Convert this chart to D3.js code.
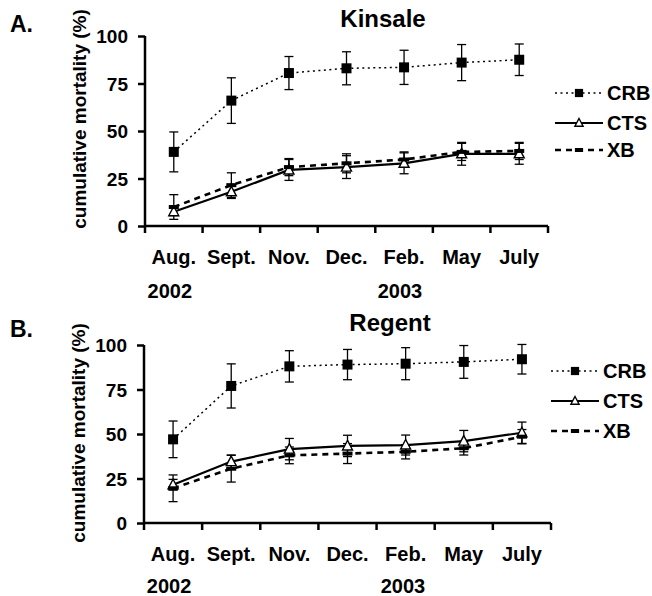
<!DOCTYPE html>
<html><head><meta charset="utf-8">
<script src="https://cdn.jsdelivr.net/npm/d3@7"></script>
<style>
html,body{margin:0;padding:0;background:#fff;}
svg text{font-family:"Liberation Sans",Arial,Helvetica,sans-serif;font-weight:bold;fill:#000;}
</style></head>
<body><svg id="chart" width="652" height="596"></svg>
<script>
const months = ["Aug.","Sept.","Nov.","Dec.","Feb.","May","July"];
const yTicks = [0,25,50,75,100];
const seriesNames = ["CRB","CTS","XB"];

const kinsaleCRB = [39,66,80.5,83,83.5,86,87.5];
const kinsaleCRBErr = [10.5,12,8.7,8.7,9,9.5,8.3];
const kinsaleCTS = [7.5,18,29.5,31,33,38,38];
const kinsaleCTSErr = [2,3.5,5.5,6,5.5,6,5.5];
const kinsaleXB = [10,21.5,31,33,35,39,39.5];
const kinsaleXBErr = [6.5,6.5,4.5,5,4,4.5,4.5];

const regentCRB = [47,77,88,89,89.5,90.5,92];
const regentCRBErr = [10.3,12.4,8.8,8.5,9,9.2,8.3];
const regentCTS = [21.5,34.5,41.5,43.3,43.8,46,50.7];
const regentCTSErr = [3,3.7,6,6,5.6,6,6];
const regentXB = [19.5,30.5,38,39,40,42,48.5];
const regentXBErr = [7.5,7.5,4.7,5.6,4,3.8,4];

const svg = d3.select("#chart");

const styles = {
  CRB: {dash:"2,3.5", width:1.5, marker:"square"},
  CTS: {dash:null, width:2.2, marker:"triangle"},
  XB:  {dash:"6,5", width:2.6, marker:"bar"}
};

function drawMarker(g, type, x, y, k){
  k = k || 1;
  if(type==="square"){
    const h = 5*k;
    g.append("rect").attr("x",x-h).attr("y",y-h).attr("width",2*h).attr("height",2*h).attr("fill","#000");
  } else if(type==="triangle"){
    g.append("path").attr("d",`M${x},${y-5.5*k} L${x+5*k},${y+4*k} L${x-5*k},${y+4*k} Z`)
      .attr("fill","#fff").attr("stroke","#000").attr("stroke-width",1.4);
  } else {
    g.append("rect").attr("x",x-5*k).attr("y",y-2).attr("width",10*k).attr("height",4).attr("fill","#000");
  }
}

function drawPanel(p){
  const g = svg.append("g");
  const x = d3.scaleBand().domain(months).range([p.x0,p.x1]).padding(0);
  const y = d3.scaleLinear().domain([0,100]).range([p.y0,p.y1]);
  const cx = d => x(d)+x.bandwidth()/2;

  // y axis
  const ya = g.append("g").attr("transform",`translate(${p.x0},0)`)
    .call(d3.axisLeft(y).tickValues(yTicks).tickSize(7).tickPadding(10).tickFormat(d3.format("d")));
  ya.select(".domain").attr("stroke-width",2.5).attr("d",`M0,${p.y0}V${p.y1}`);
  ya.selectAll(".tick line").attr("stroke-width",2.5);
  ya.selectAll(".tick text").attr("font-size",19).attr("dy","0.36em");

  // x axis with ticks at band boundaries
  const xa = g.append("g").attr("transform",`translate(0,${p.y0})`);
  xa.append("line").attr("x1",p.x0).attr("x2",p.x1).attr("stroke","#000").attr("stroke-width",2.5);
  const bounds = months.map(m=>x(m)).concat([p.x1]);
  xa.selectAll(".bt").data(bounds).enter().append("line")
    .attr("x1",d=>d).attr("x2",d=>d).attr("y1",0).attr("y2",7).attr("stroke","#000").attr("stroke-width",2.5);
  xa.selectAll(".lab").data(months).enter().append("text")
    .attr("x",d=>cx(d)).attr("y",p.labY-p.y0).attr("text-anchor","middle").attr("font-size",20).text(d=>d);

  g.append("text").attr("x",cx("Aug.")-4).attr("y",p.yearY).attr("text-anchor","middle").attr("font-size",20).text("2002");
  g.append("text").attr("x",p.year2X).attr("y",p.yearY).attr("text-anchor","middle").attr("font-size",20).text("2003");

  // title & panel letter
  g.append("text").attr("x",p.titleX).attr("y",p.titleY).attr("text-anchor","middle").attr("font-size",24).text(p.title);
  g.append("text").attr("x",10).attr("y",p.letterY).attr("font-size",23).text(p.letter);

  // y label
  g.append("text").attr("transform",`translate(${p.ylabX},${p.ylabY}) rotate(-90)`)
    .attr("text-anchor","middle").attr("font-size",19).text("cumulative mortality (%)");

  const line = d3.line().x((d,i)=>cx(months[i])).y(d=>y(d));
  seriesNames.forEach(s=>{
    const st = styles[s];
    g.append("path").datum(p.data[s].v).attr("d",line).attr("fill","none").attr("stroke","#000")
      .attr("stroke-width",st.width).attr("stroke-dasharray",st.dash);
  });
  seriesNames.forEach(s=>{
    const d = p.data[s];
    d.v.forEach((v,i)=>{
      const xx = cx(months[i]), e = d.e[i];
      g.append("line").attr("x1",xx).attr("x2",xx).attr("y1",y(v-e)).attr("y2",y(v+e)).attr("stroke","#000").attr("stroke-width",1.3);
      [v-e,v+e].forEach(t=>g.append("line").attr("x1",xx-4.5).attr("x2",xx+4.5).attr("y1",y(t)).attr("y2",y(t)).attr("stroke","#000").attr("stroke-width",1.3));
    });
  });
  seriesNames.forEach(s=>{
    const d = p.data[s];
    d.v.forEach((v,i)=>drawMarker(g, styles[s].marker, cx(months[i]), y(v)));
  });

  // legend
  seriesNames.forEach((s,i)=>{
    const ly = p.legY[i], st = styles[s];
    g.append("line").attr("x1",p.legX).attr("x2",p.legX+48).attr("y1",ly).attr("y2",ly)
      .attr("stroke","#000").attr("stroke-width",st.width).attr("stroke-dasharray",st.dash);
    drawMarker(g, st.marker, p.legX+24, ly, 0.82);
    g.append("text").attr("x",p.legX+52).attr("y",ly).attr("dy","0.36em").attr("font-size",20).text(s);
  });
}

drawPanel({
  x0:145, x1:548, y0:226, y1:36, labY:264, yearY:298, year2X:400,
  title:"Kinsale", titleX:383, titleY:27, letter:"A.", letterY:32,
  ylabX:86, ylabY:119, legX:555, legY:[93,123,150],
  data:{CRB:{v:kinsaleCRB,e:kinsaleCRBErr},CTS:{v:kinsaleCTS,e:kinsaleCTSErr},XB:{v:kinsaleXB,e:kinsaleXBErr}}
});
drawPanel({
  x0:144, x1:551, y0:523, y1:345, labY:561, yearY:593, year2X:403,
  title:"Regent", titleX:390, titleY:331, letter:"B.", letterY:337,
  ylabX:85, ylabY:433, legX:551, legY:[371,401,431],
  data:{CRB:{v:regentCRB,e:regentCRBErr},CTS:{v:regentCTS,e:regentCTSErr},XB:{v:regentXB,e:regentXBErr}}
});
</script></body></html>
